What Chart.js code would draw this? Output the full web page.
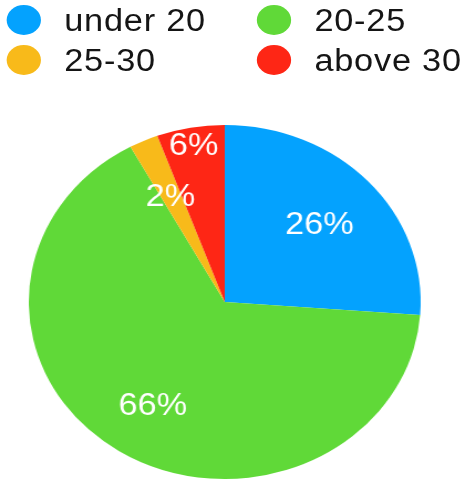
<!DOCTYPE html>
<html>
<head>
<meta charset="utf-8">
<script src="https://cdn.jsdelivr.net/npm/chart.js@4"></script>
<style>
  body { margin: 0; background: #fff; }
  /* the reference is stretched sideways, so the whole page is too */
  #page {
    position: relative;
    width: 423px;
    height: 481px;
    transform: scaleX(1.107);
    transform-origin: 0 0;
    font-family: "Liberation Sans", Arial, sans-serif;
  }
  #legend {
    position: absolute;
    left: 6px;
    top: 5px;
    display: grid;
    grid-template-columns: 226px auto;
    row-gap: 10px;
  }
  .item { display: flex; align-items: center; height: 30px; }
  .dot { width: 31px; height: 30px; border-radius: 50%; margin-right: 21px; }
  .txt { font-size: 31px; letter-spacing: 0.7px; color: #151515; line-height: 30px; padding-top: 2px; }
  #myChart { position: absolute; left: 0; top: 0; }
</style>
</head>
<body>
<div id="page">
  <div id="legend"></div>
  <canvas id="myChart" width="423" height="481"></canvas>
</div>
<script>
// age groups and their share
const groups = ['under 20', '20-25', '25-30', 'above 30'];
const shares = [26.2, 65.9, 2.4, 5.6];
const colors = ['#04A2FE', '#60D938', '#F8BA1A', '#FE2615'];

// html legend, two columns like the original
const legend = document.getElementById('legend');
groups.forEach((g, i) => {
    const item = document.createElement('div');
    item.className = 'item';
    item.innerHTML = '<span class="dot" style="background:' + colors[i] + '"></span><span class="txt">' + g + '</span>';
    legend.appendChild(item);
});

// draws the percentage inside each slice
const pctLabels = {
    id: 'pctLabels',
    afterDatasetsDraw(chart, args, opts) {
        const ctx = chart.ctx;
        const data = chart.data.datasets[0].data;
        const total = data.reduce((a, b) => a + b, 0);
        ctx.save();
        ctx.fillStyle = '#fff';
        ctx.font = '31px "Liberation Sans", Arial, sans-serif';
        ctx.textAlign = 'center';
        ctx.textBaseline = 'middle';
        chart.getDatasetMeta(0).data.forEach((arc, i) => {
            const p = arc.getProps(['x', 'y', 'startAngle', 'endAngle', 'outerRadius'], true);
            const mid = (p.startAngle + p.endAngle) / 2;
            const r = p.outerRadius * opts.dist[i];
            const text = Math.round(data[i] / total * 100) + '%';
            ctx.fillText(text, p.x + Math.cos(mid) * r, p.y + Math.sin(mid) * r + opts.shiftY);
        });
        ctx.restore();
    }
};

const ctx = document.getElementById('myChart');
const myChart = new Chart(ctx, {
    type: 'pie',
    data: {
        labels: groups,
        datasets: [{
            data: shares,
            backgroundColor: colors,
            borderWidth: 0
        }]
    },
    options: {
        responsive: false,
        animation: false,
        devicePixelRatio: 1,
        layout: {
            padding: { left: 26, right: 43, top: 125, bottom: 2 }
        },
        plugins: {
            legend: { display: false },
            tooltip: { enabled: false },
            pctLabels: { dist: [0.66, 0.68, 0.67, 0.91], shiftY: 3 }
        }
    },
    plugins: [pctLabels]
});
</script>
</body>
</html>
